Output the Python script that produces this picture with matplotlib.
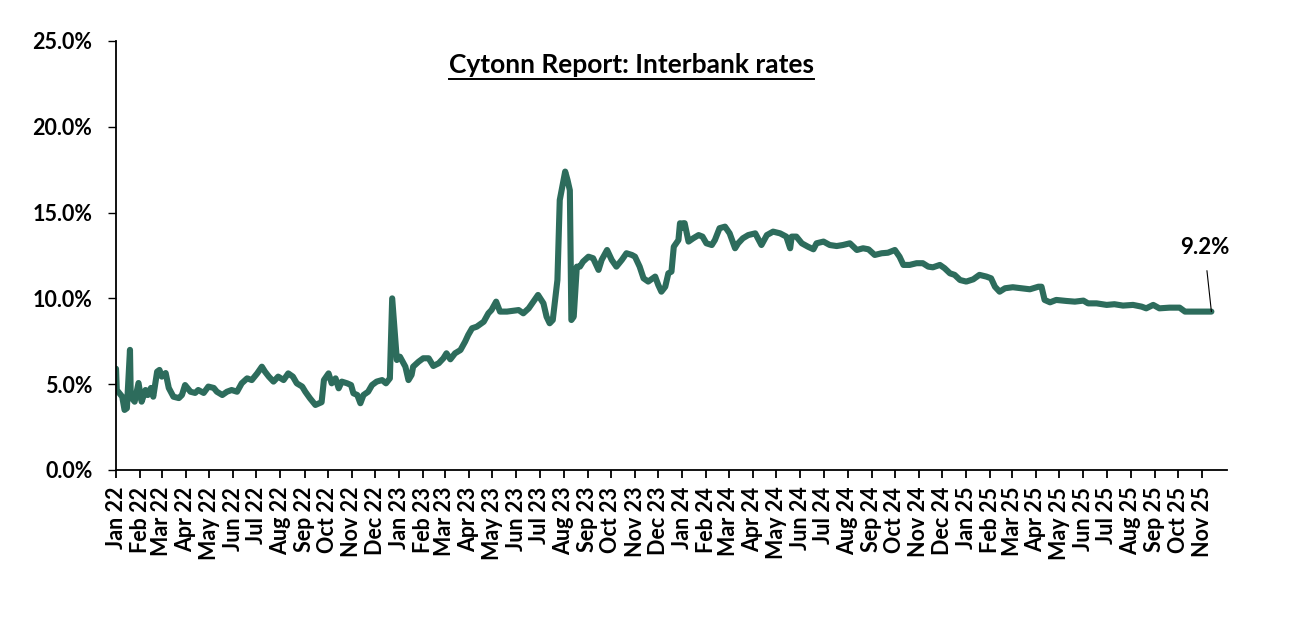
import matplotlib
matplotlib.use("Agg")
import matplotlib.pyplot as plt
import matplotlib.dates as mdates
import pandas as pd

# interbank rate, %
dates = [
    "2022-01-01", "2022-01-02", "2022-01-09", "2022-01-12", "2022-01-15", "2022-01-19",
    "2022-01-20", "2022-01-25", "2022-01-30", "2022-02-03", "2022-02-08", "2022-02-11",
    "2022-02-15", "2022-02-18", "2022-02-23", "2022-02-26", "2022-03-01", "2022-03-06",
    "2022-03-10", "2022-03-16", "2022-03-23", "2022-03-27", "2022-03-31", "2022-04-07",
    "2022-04-13", "2022-04-17", "2022-04-24", "2022-04-30", "2022-05-07", "2022-05-11",
    "2022-05-18", "2022-05-24", "2022-05-30", "2022-06-06", "2022-06-12", "2022-06-19",
    "2022-06-25", "2022-07-02", "2022-07-08", "2022-07-12", "2022-07-17", "2022-07-23",
    "2022-07-29", "2022-08-05", "2022-08-11", "2022-08-17", "2022-08-22", "2022-08-29",
    "2022-09-02", "2022-09-08", "2022-09-15", "2022-09-20", "2022-09-23", "2022-09-26",
    "2022-10-02", "2022-10-06", "2022-10-11", "2022-10-15", "2022-10-19", "2022-10-26",
    "2022-10-31", "2022-11-03", "2022-11-08", "2022-11-12", "2022-11-16", "2022-11-22",
    "2022-11-27", "2022-12-03", "2022-12-10", "2022-12-15", "2022-12-20", "2022-12-23",
    "2022-12-29", "2023-01-02", "2023-01-09", "2023-01-13", "2023-01-17", "2023-01-19",
    "2023-01-26", "2023-02-01", "2023-02-08", "2023-02-14", "2023-02-21", "2023-02-27",
    "2023-03-03", "2023-03-08", "2023-03-14", "2023-03-21", "2023-03-27", "2023-03-31",
    "2023-04-05", "2023-04-11", "2023-04-20", "2023-04-26", "2023-04-30", "2023-05-06",
    "2023-05-11", "2023-05-20", "2023-05-28", "2023-06-04", "2023-06-10", "2023-06-17",
    "2023-06-23", "2023-06-29", "2023-07-06", "2023-07-10", "2023-07-14", "2023-07-18",
    "2023-07-21", "2023-07-24", "2023-07-27", "2023-08-01", "2023-08-03", "2023-08-06",
    "2023-08-09", "2023-08-11", "2023-08-14", "2023-08-18", "2023-08-22", "2023-08-26",
    "2023-09-02", "2023-09-08", "2023-09-15", "2023-09-19", "2023-09-26", "2023-10-02",
    "2023-10-08", "2023-10-15", "2023-10-21", "2023-10-28", "2023-11-01", "2023-11-07",
    "2023-11-12", "2023-11-18", "2023-11-27", "2023-12-01", "2023-12-05", "2023-12-10",
    "2023-12-14", "2023-12-18", "2023-12-21", "2023-12-27", "2023-12-29", "2023-12-31",
    "2024-01-02", "2024-01-04", "2024-01-09", "2024-01-15", "2024-01-22", "2024-01-27",
    "2024-02-01", "2024-02-08", "2024-02-12", "2024-02-18", "2024-02-25", "2024-03-02",
    "2024-03-09", "2024-03-13", "2024-03-19", "2024-03-26", "2024-04-04", "2024-04-12",
    "2024-04-19", "2024-04-27", "2024-05-06", "2024-05-14", "2024-05-19", "2024-05-21",
    "2024-05-27", "2024-06-03", "2024-06-11", "2024-06-18", "2024-06-22", "2024-07-01",
    "2024-07-09", "2024-07-18", "2024-07-26", "2024-08-04", "2024-08-13", "2024-08-21",
    "2024-08-28", "2024-09-05", "2024-09-14", "2024-09-22", "2024-10-01", "2024-10-07",
    "2024-10-12", "2024-10-20", "2024-10-29", "2024-11-06", "2024-11-13", "2024-11-19",
    "2024-11-28", "2024-12-04", "2024-12-11", "2024-12-17", "2024-12-24", "2025-01-01",
    "2025-01-10", "2025-01-18", "2025-01-27", "2025-02-02", "2025-02-07", "2025-02-13",
    "2025-02-20", "2025-03-02", "2025-03-13", "2025-03-24", "2025-04-04", "2025-04-08",
    "2025-04-12", "2025-04-19", "2025-04-27", "2025-05-10", "2025-05-21", "2025-06-01",
    "2025-06-07", "2025-06-18", "2025-07-01", "2025-07-11", "2025-07-22", "2025-08-04",
    "2025-08-15", "2025-08-21", "2025-08-30", "2025-09-07", "2025-09-20", "2025-10-03",
    "2025-10-10", "2025-10-20", "2025-11-02", "2025-11-13",
]
rates = [
    5.9, 4.66, 4.27, 3.5, 3.6, 7.0,
    4.27, 3.98, 5.07, 3.98, 4.66, 4.37,
    4.78, 4.27, 5.73, 5.83, 5.44, 5.65,
    4.78, 4.27, 4.19, 4.37, 4.95, 4.56,
    4.49, 4.66, 4.49, 4.86, 4.78, 4.56,
    4.37, 4.56, 4.66, 4.56, 5.05, 5.34,
    5.24, 5.63, 6.02, 5.73, 5.44, 5.15,
    5.44, 5.24, 5.63, 5.44, 5.05, 4.86,
    4.56, 4.18, 3.79, 3.89, 3.95, 5.24,
    5.63, 5.05, 5.34, 4.76, 5.15, 5.05,
    4.95, 4.47, 4.37, 3.89, 4.37, 4.56,
    4.95, 5.15, 5.24, 5.05, 5.34, 10.0,
    6.41, 6.60, 6.02, 5.24, 5.54, 6.02,
    6.31, 6.51, 6.51, 6.06, 6.22, 6.51,
    6.80, 6.45, 6.80, 6.99, 7.48, 7.87,
    8.26, 8.35, 8.64, 9.13, 9.32, 9.81,
    9.23, 9.23, 9.28, 9.32, 9.13, 9.42,
    9.81, 10.2, 9.71, 8.93, 8.55, 8.74,
    9.91, 11.07, 15.73, 16.9, 17.39, 16.9,
    16.3, 8.74, 8.93, 11.85, 11.85, 12.14,
    12.43, 12.34, 11.66, 12.24, 12.82, 12.24,
    11.85, 12.24, 12.63, 12.53, 12.43, 11.85,
    11.17, 10.98, 11.27, 10.78, 10.39, 10.68,
    11.46, 11.56, 13.01, 13.40, 14.38, 14.1,
    14.38, 14.38, 13.31, 13.5, 13.69, 13.6,
    13.21, 13.11, 13.4, 14.09, 14.18, 13.79,
    12.92, 13.21, 13.5, 13.69, 13.79, 13.11,
    13.69, 13.89, 13.79, 13.6, 12.92, 13.6,
    13.6, 13.21, 13.01, 12.86, 13.21, 13.31,
    13.11, 13.05, 13.11, 13.21, 12.82, 12.92,
    12.86, 12.53, 12.63, 12.66, 12.82, 12.43,
    11.95, 11.95, 12.05, 12.05, 11.85, 11.81,
    11.95, 11.76, 11.46, 11.37, 11.07, 10.98,
    11.11, 11.37, 11.27, 11.17, 10.68, 10.39,
    10.59, 10.65, 10.59, 10.53, 10.68, 10.68,
    9.91, 9.77, 9.91, 9.85, 9.81, 9.87,
    9.71, 9.71, 9.62, 9.66, 9.58, 9.62,
    9.52, 9.42, 9.62, 9.42, 9.46, 9.46,
    9.23, 9.23, 9.23, 9.23,
]

title = "Cytonn Report: Interbank rates"
last_label = "9.2%"
month_ticks = pd.date_range("2022-01-01", "2025-11-01", freq="MS")

plt.rcParams['font.family'] = ['Lato', 'DejaVu Sans']

x = pd.to_datetime(dates)

fig = plt.figure(figsize=(13.08, 6.18), dpi=100)
ax = fig.add_axes([0.0887, 0.2395, 0.8493, 0.6942])

ax.plot(x, rates, color='#2D6C5C', lw=4.4, solid_joinstyle='round', solid_capstyle='round')

ax.set_ylim(0, 25)
ax.set_yticks([0, 5, 10, 15, 20, 25])
ax.yaxis.set_major_formatter(plt.FuncFormatter(lambda v, p: f"{v:.1f}%"))
ax.set_xlim(pd.Timestamp("2022-01-01"), pd.Timestamp("2025-12-03"))
ax.set_xticks(month_ticks)
ax.xaxis.set_major_formatter(mdates.DateFormatter('%b %y'))

for s in ['top', 'right']:
    ax.spines[s].set_visible(False)
for s in ['left', 'bottom']:
    ax.spines[s].set_linewidth(1.3)

ax.tick_params(axis='y', direction='out', length=6, width=1.0, pad=11, labelsize=15.5)
ax.tick_params(axis='x', direction='out', length=6, width=1.3, pad=6, labelsize=15.5)
for lab in ax.get_yticklabels():
    lab.set_fontweight('bold')
for lab in ax.get_xticklabels():
    lab.set_fontweight('bold')
    lab.set_rotation(90)
    lab.set_ha('center')

t = ax.text(0.464, 0.944, title, transform=ax.transAxes, ha='center', va='center',
            fontsize=19, fontweight='bold')
# underline under the title
fig.canvas.draw()
bb = t.get_window_extent().transformed(ax.transAxes.inverted())
ax.plot([bb.x0, bb.x1], [bb.y0 - 0.004, bb.y0 - 0.004], transform=ax.transAxes,
        color='black', lw=1.4, clip_on=False)

ax.annotate(last_label, xy=(x[-1], rates[-1]), xytext=(-5, 46), textcoords='offset points',
            ha='center', va='center', fontsize=16, fontweight='bold',
            arrowprops=dict(arrowstyle='-', color='black', lw=0.8, shrinkA=7, shrinkB=0))

fig.savefig("out.png", dpi=100)
